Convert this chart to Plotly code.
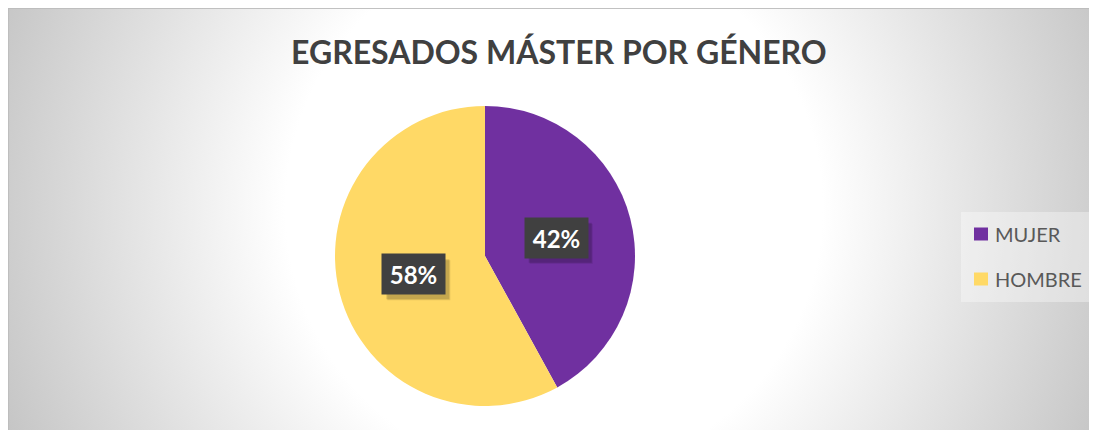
import base64
import math
import plotly.graph_objects as go

# ---- data ----
categories = ["MUJER", "HOMBRE"]
values = [42, 58]
colors = ["#7030A0", "#FFD966"]
title_text = "EGRESADOS MÁSTER POR GÉNERO"

# page body has an 8px margin; figure occupies the rest of the window
OFF = 8
W, H = 1097 - OFF, 430 - OFF

svg = f'''<svg xmlns="http://www.w3.org/2000/svg" width="{W}" height="{H}" viewBox="0 0 {W} {H}">
<defs><radialGradient id="g" gradientUnits="userSpaceOnUse" cx="546" cy="200" r="610">
<stop offset="0" stop-color="#ffffff"/><stop offset="0.44" stop-color="#ffffff"/>
<stop offset="1" stop-color="#c2c2c2"/></radialGradient></defs>
<rect x="0" y="0" width="{W}" height="{H}" fill="url(#g)"/></svg>'''
src = "data:image/svg+xml;base64," + base64.b64encode(svg.encode()).decode()

def px(x):
    return (x - OFF) / W

def py(y):
    return 1 - (y - OFF) / H

# pie geometry (window pixels)
PCX, PCY, PR = 485, 256, 150

fig = go.Figure()
fig.add_trace(go.Pie(
    labels=categories, values=values, marker=dict(colors=colors, line=dict(width=0)),
    sort=False, direction="clockwise", rotation=0, textinfo="none",
    hoverinfo="label+percent", showlegend=False,
    domain=dict(x=[px(PCX - PR), px(PCX + PR)], y=[py(PCY + PR), py(PCY - PR)]),
))

annotations = []
shapes = []

# percentage labels placed at slice mid-angles
total = sum(values)
cum = 0
BW, BH = 63, 40
for v in values:
    mid = (cum + v / 2) / total * 2 * math.pi
    cum += v
    lx = PCX + 0.49 * PR * math.sin(mid)
    ly = PCY - 0.49 * PR * math.cos(mid)
    pct = f"{round(100 * v / total)}%"
    # soft shadow
    for d, a in [(5, 0.10), (4, 0.14)]:
        shapes.append(dict(type="rect", xref="paper", yref="paper",
                           x0=px(lx - BW / 2 + d), x1=px(lx + BW / 2 + d),
                           y0=py(ly + BH / 2 + d + 1), y1=py(ly - BH / 2 + d + 1),
                           fillcolor=f"rgba(0,0,0,{a})", line=dict(width=0), layer="above"))
    annotations.append(dict(
        x=px(lx), y=py(ly), xref="paper", yref="paper", text=f"<b>{pct}</b>", showarrow=False,
        font=dict(family="Lato", size=24, color="#ffffff"),
        bgcolor="#404040", width=BW, height=BH, borderpad=0,
        xanchor="center", yanchor="middle"))

# title
annotations.append(dict(
    x=px(559), y=py(52), xref="paper", yref="paper", text=f"<b>{title_text}</b>",
    showarrow=False, font=dict(family="Lato", size=32, color="#404040"),
    xanchor="center", yanchor="middle"))

# legend (manual)
shapes.append(dict(type="rect", xref="paper", yref="paper",
                   x0=px(961), x1=px(1093), y0=py(302), y1=py(212),
                   fillcolor="rgba(255,255,255,0.35)", line=dict(width=0), layer="above"))
for i, (cat, col) in enumerate(zip(categories, colors)):
    cy = 234 + 45 * i
    shapes.append(dict(type="rect", xref="paper", yref="paper",
                       x0=px(974), x1=px(988), y0=py(cy + 6.5), y1=py(cy - 6.5),
                       fillcolor=col, line=dict(width=0), layer="above"))
    annotations.append(dict(
        x=px(993), y=py(cy), xref="paper", yref="paper", text=cat, showarrow=False,
        font=dict(family="Lato", size=20, color="#595959"),
        xanchor="left", yanchor="middle"))

# frame border (left and top edges)
shapes.append(dict(type="line", xref="paper", yref="paper", x0=0.0005, x1=0.0005, y0=0, y1=1,
                   line=dict(color="#bdbdbd", width=1), layer="above"))
shapes.append(dict(type="line", xref="paper", yref="paper", x0=0, x1=1, y0=0.999, y1=0.999,
                   line=dict(color="#bdbdbd", width=1), layer="above"))

fig.update_layout(
    width=W, height=H, margin=dict(l=0, r=0, t=0, b=0),
    paper_bgcolor="#ffffff", plot_bgcolor="#ffffff",
    images=[dict(source=src, xref="paper", yref="paper", x=0, y=1,
                 sizex=1, sizey=1, sizing="stretch", xanchor="left", yanchor="top",
                 layer="below")],
    annotations=annotations, shapes=shapes, showlegend=False,
)

fig.write_html("out.html")
